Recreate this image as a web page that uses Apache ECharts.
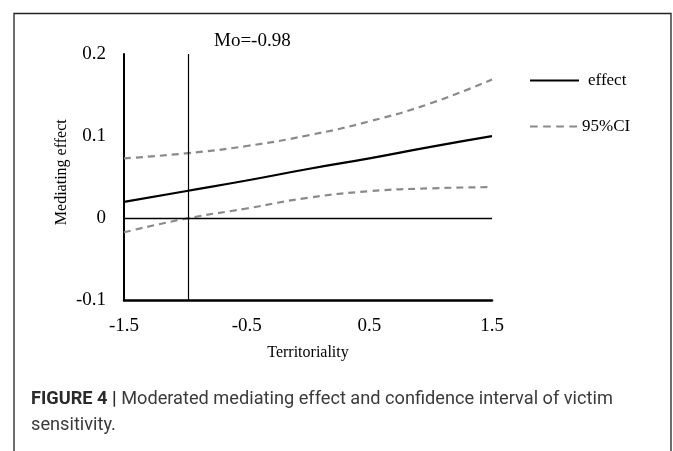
<!DOCTYPE html>
<html>
<head>
<meta charset="utf-8">
<script src="https://cdn.jsdelivr.net/npm/echarts@6/dist/echarts.min.js"></script>
<style>
html,body{margin:0;padding:0;background:#fff;}
#chart{width:673px;height:451px;}
</style>
</head>
<body>
<div id="chart"></div>
<script>
// Data
const territoriality = [-1.5, -1.0, -0.5, 0.0, 0.5, 1.0, 1.5];
const effectValues   = [0.020, 0.033, 0.046, 0.060, 0.073, 0.087, 0.100];
const upperCI        = [0.073, 0.079, 0.088, 0.101, 0.118, 0.140, 0.169];
const lowerCI        = [-0.017, -0.0005, 0.012, 0.025, 0.033, 0.0365, 0.038];
const xTicks = [-1.5, -0.5, 0.5, 1.5];
const yTicks = [-0.1, 0, 0.1, 0.2];
const moValue = -0.98;
const moLabel = 'Mo=-0.98';

const pairs = (ys) => territoriality.map((x, i) => [x, ys[i]]);
const serif = 'Liberation Serif';

const chart = echarts.init(document.getElementById('chart'), null, {renderer: 'canvas'});
const dash = {color: '#8a8a8a', width: 2.2, type: [7, 5]};
const solidIcon = 'path://M0,0H48V2H0Z';
const dashIcon = 'path://M0,0H7V2H0Z M12,0H19V2H12Z M24,0H31V2H24Z M36,0H43V2H36Z';

chart.setOption({
  animation: false,
  backgroundColor: '#fff',
  title: {
    text: moLabel, left: 209, top: 27,
    textStyle: {fontFamily: serif, fontSize: 19, fontWeight: 'normal', color: '#000'}
  },
  grid: {left: 124, right: 181, top: 54, bottom: 150.5, containLabel: false},
  legend: [
    {data: [{name: 'effect', icon: solidIcon}], orient: 'vertical', left: 525, top: 67,
     itemWidth: 49, itemHeight: 2.2, itemStyle: {color: '#000'},
     textStyle: {fontFamily: serif, fontSize: 17, color: '#000', padding: [0, 0, 0, 4]}},
    {data: [{name: '95%CI', icon: dashIcon}], orient: 'vertical', left: 525, top: 113,
     itemWidth: 47, itemHeight: 2.2, itemStyle: {color: '#8a8a8a'},
     textStyle: {fontFamily: serif, fontSize: 17, color: '#000'}}
  ],
  xAxis: {
    type: 'value', min: xTicks[0], max: xTicks[xTicks.length - 1], interval: 1,
    name: 'Territoriality', nameLocation: 'middle', nameGap: 44,
    nameTextStyle: {fontFamily: serif, fontSize: 16, color: '#000'},
    axisLine: {show: true, onZero: false, lineStyle: {color: '#000', width: 2.5}},
    axisTick: {show: false}, splitLine: {show: false},
    axisLabel: {fontFamily: serif, fontSize: 19, color: '#000', margin: 16,
      formatter: (v) => String(Math.round(v * 10) / 10)}
  },
  yAxis: {
    type: 'value', min: yTicks[0], max: yTicks[yTicks.length - 1], interval: 0.1,
    name: 'Mediating effect', nameLocation: 'middle', nameGap: 54, nameRotate: 90,
    nameMoveOverlap: false,
    nameTextStyle: {fontFamily: serif, fontSize: 16, color: '#000', padding: [0, 0, 0, 10]},
    axisLine: {show: true, onZero: false, lineStyle: {color: '#000', width: 2}},
    axisTick: {show: false}, splitLine: {show: false},
    axisLabel: {fontFamily: serif, fontSize: 19, color: '#000', margin: 18,
      formatter: (v) => String(Math.round(v * 10) / 10)}
  },
  series: [
    {
      name: 'effect', type: 'line', data: pairs(effectValues), symbol: 'none', smooth: true,
      lineStyle: {color: '#000', width: 2.2}, itemStyle: {color: '#000'}, z: 5,
      markLine: {
        silent: true, symbol: 'none', label: {show: false},
        data: [
          {xAxis: moValue, lineStyle: {color: '#000', width: 1.2, type: 'solid'}},
          {yAxis: 0, lineStyle: {color: '#000', width: 1.3, type: 'solid'}}
        ]
      }
    },
    {
      name: '95%CI', type: 'line', data: pairs(upperCI), symbol: 'none', smooth: true,
      lineStyle: dash, itemStyle: {color: '#8a8a8a'}
    },
    {
      name: '95%CI', type: 'line', data: pairs(lowerCI), symbol: 'none', smooth: true,
      lineStyle: dash, itemStyle: {color: '#8a8a8a'}
    }
  ],
  graphic: [
    {type: 'rect', shape: {x: 14, y: 13.5, width: 657, height: 460}, silent: true,
     style: {fill: 'none', stroke: '#222', lineWidth: 1.3}},
    {type: 'text', left: 31, top: 386, silent: true,
     style: {
       text: '{b|FIGURE 4 |} Moderated mediating effect and confidence interval of victim\nsensitivity.',
       fontFamily: 'Roboto, sans-serif', fontSize: 18.2, lineHeight: 26,
       fill: '#3a3a3a',
       rich: {b: {fontFamily: 'Roboto, sans-serif', fontSize: 18.2,
                  fontWeight: 'bold', fill: '#2a2a2a', lineHeight: 26}}
     }}
  ]
});
</script>
</body>
</html>
